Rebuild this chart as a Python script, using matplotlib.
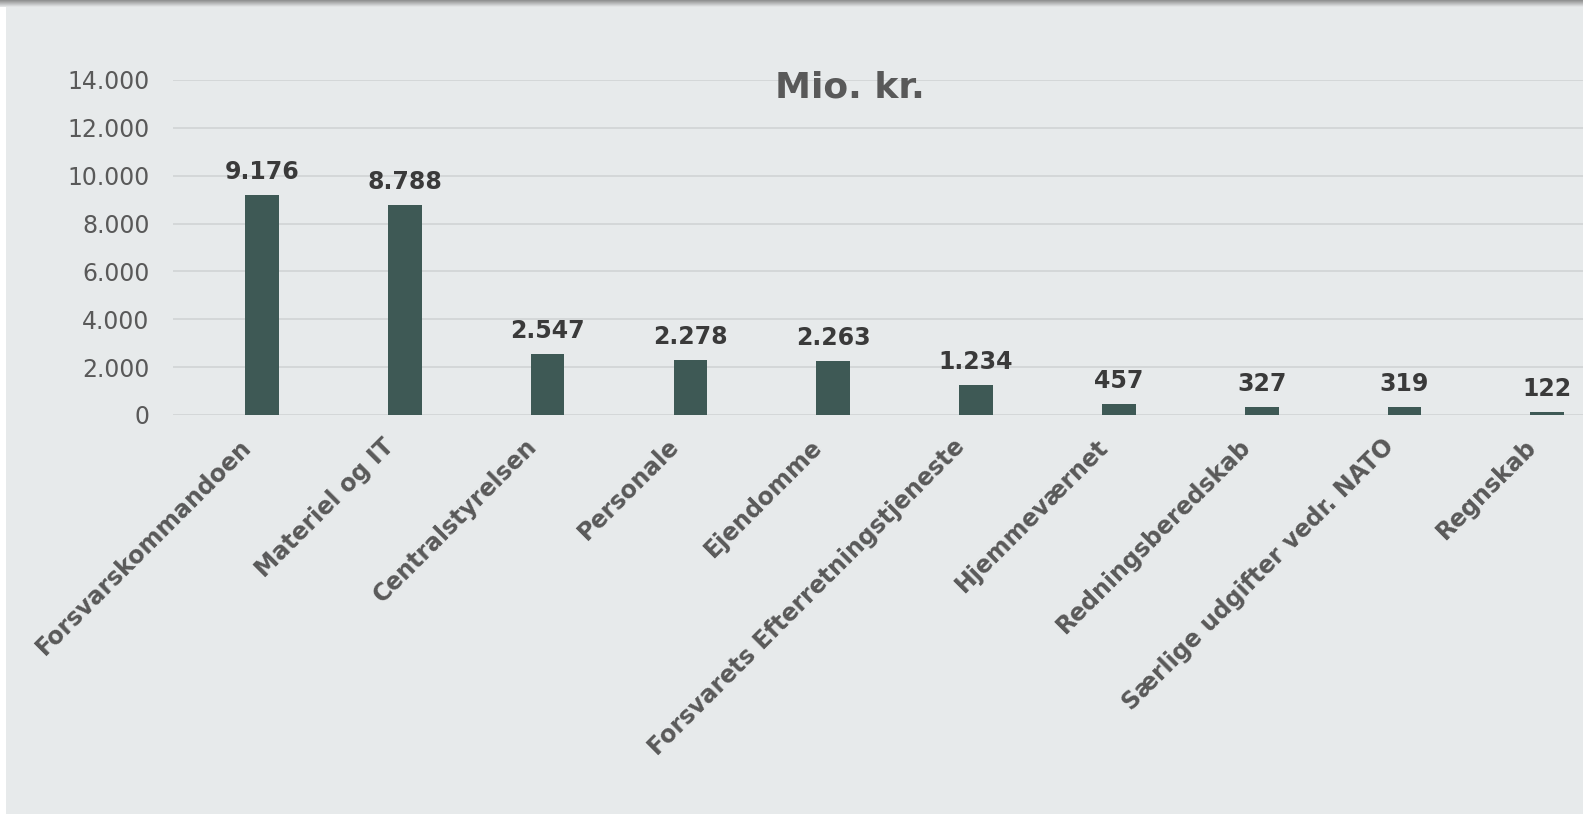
"""Forsvarets bevillinger fordelt paa omraader, mio. kr."""
import numpy as np
import matplotlib
matplotlib.use("Agg")
import matplotlib.pyplot as plt
from matplotlib.patches import Rectangle
from matplotlib.colors import LinearSegmentedColormap
from matplotlib.transforms import ScaledTranslation

categories = ["Forsvarskommandoen", "Materiel og IT", "Centralstyrelsen",
              "Personale", "Ejendomme", "Forsvarets Efterretningstjeneste",
              "Hjemmeværnet", "Redningsberedskab", "Særlige udgifter vedr. NATO",
              "Regnskab"]
values = [9176, 8788, 2547, 2278, 2263, 1234, 457, 327, 319, 122]
y_ticks = [0, 2000, 4000, 6000, 8000, 10000, 12000, 14000]

BG = "#e7eaeb"
BAR = "#3e5955"
GRID = "#d3d6d7"
TXT = "#595959"
LBL = "#3a3a3a"


def fmt(v):
    return f"{v:,}".replace(",", ".")


def main():
    W, H = 1583, 814
    fig = plt.figure(figsize=(W / 100, H / 100), dpi=100)
    fig.patch.set_facecolor("white")
    fig.patches.append(Rectangle((6 / W, 0), 1, 1, transform=fig.transFigure,
                                 facecolor=BG, edgecolor="none", zorder=-10))

    # shadow along the top edge
    sh = fig.add_axes([0, 1 - 7 / H, 1, 7 / H])
    grad = np.linspace(0, 1, 50).reshape(-1, 1)
    cmap = LinearSegmentedColormap.from_list("sh", ["#8c8c8c", BG])
    sh.imshow(grad, aspect="auto", cmap=cmap, extent=(0, 1, 0, 1), origin="upper")
    sh.axis("off")

    ax = fig.add_axes([173 / W, 1 - 415 / H, (W - 173) / W, 335 / H])
    ax.set_facecolor("none")
    x = np.arange(len(categories))
    bars = ax.bar(x, values, width=0.236, color=BAR, zorder=3)

    for b, v in zip(bars, values):
        ax.annotate(fmt(v), (b.get_x() + b.get_width() / 2, v),
                    xytext=(0, 8), textcoords="offset points",
                    ha="center", va="bottom", fontsize=17,
                    fontweight="bold", color=LBL)

    ax.set_xlim(-0.623, 9.25)
    ax.set_ylim(0, 14000)
    ax.set_yticks(y_ticks)
    ax.set_yticklabels([fmt(t) for t in y_ticks], fontsize=17, color=TXT)
    ax.yaxis.grid(True, color=GRID, linewidth=1.3, zorder=0)
    ax.set_axisbelow(True)
    ax.tick_params(axis="y", length=0, pad=17)
    ax.tick_params(axis="x", length=0, pad=14)
    for s in ax.spines.values():
        s.set_visible(False)

    ax.set_xticks(x)
    ax.set_xticklabels(categories, rotation=45, ha="right", va="top",
                       rotation_mode="anchor", fontsize=17,
                       fontweight="bold", color=TXT)
    shift = ScaledTranslation(-23 / 100, 0, fig.dpi_scale_trans)
    for lab in ax.get_xticklabels():
        lab.set_transform(lab.get_transform() + shift)

    fig.text(850 / W, 1 - 88 / H, "Mio. kr.", ha="center", va="center",
             fontsize=26, fontweight="bold", color=TXT)

    fig.savefig("out.png", dpi=100, facecolor=fig.get_facecolor())


if __name__ == "__main__":
    main()
